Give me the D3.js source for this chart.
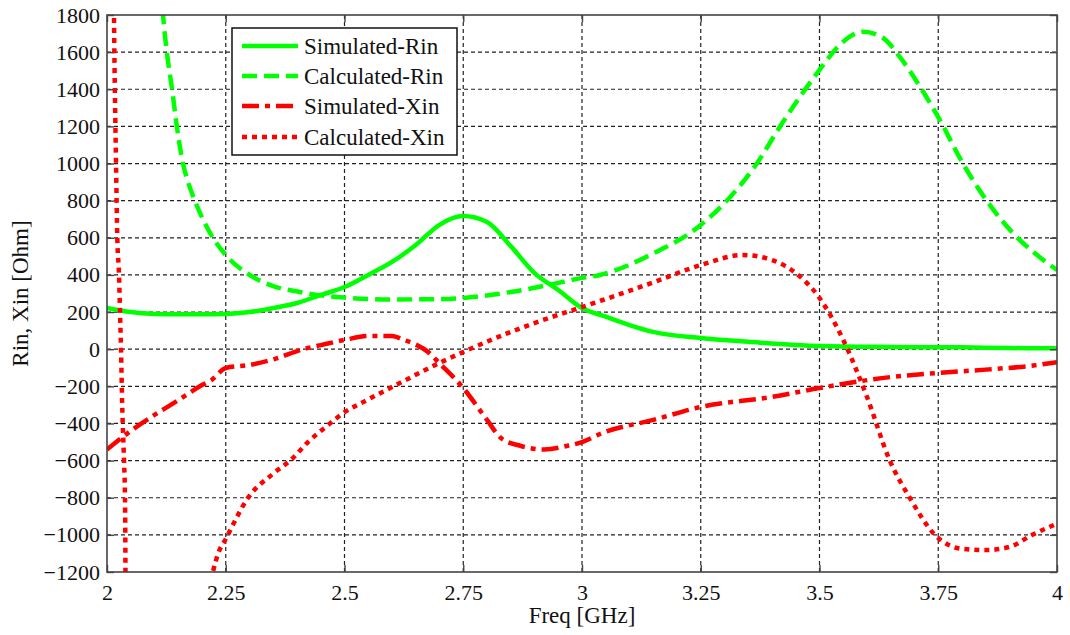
<!DOCTYPE html>
<html>
<head>
<meta charset="utf-8">
<script src="https://cdn.jsdelivr.net/npm/d3@7"></script>
<style>
  html, body { margin: 0; padding: 0; background: #fff; }
  svg text { font-family: "Liberation Serif", "Times New Roman", serif; fill: #111; }
</style>
</head>
<body>
<svg id="chart" width="1070" height="635"></svg>
<script>
// ---------- data ----------
const xTicks = [2, 2.25, 2.5, 2.75, 3, 3.25, 3.5, 3.75, 4];
const xTickLabels = ["2", "2.25", "2.5", "2.75", "3", "3.25", "3.5", "3.75", "4"];
const yTicks = [-1200, -1000, -800, -600, -400, -200, 0, 200, 400, 600, 800, 1000, 1200, 1400, 1600, 1800];

const simRinFreq = [2.0, 2.05, 2.1, 2.15, 2.2, 2.25, 2.3, 2.35, 2.4, 2.45, 2.5, 2.55, 2.6, 2.65, 2.7, 2.75, 2.8, 2.85, 2.9, 2.95, 3.0, 3.05, 3.1, 3.15, 3.25, 3.35, 3.5, 3.65, 3.8, 3.9, 4.0];
const simRin     = [222, 200, 190, 188, 188, 190, 200, 222, 249, 292, 335, 400, 470, 561, 670, 717, 685, 555, 410, 319, 222, 175, 130, 93, 60, 40, 17, 12, 10, 6, 5];

const calcRinFreq = [2.114, 2.118, 2.126, 2.137, 2.147, 2.16, 2.17, 2.185, 2.2, 2.223, 2.25, 2.3, 2.35, 2.406, 2.45, 2.5, 2.6, 2.7, 2.75, 2.85, 2.95, 3.0, 3.038, 3.143, 3.25, 3.312, 3.368, 3.417, 3.459, 3.5, 3.543, 3.592, 3.634, 3.669, 3.712, 3.75, 3.802, 3.852, 3.907, 3.958, 4.0];
const calcRin     = [1950, 1800, 1600, 1400, 1200, 1000, 905, 800, 710, 600, 507, 400, 340, 308, 290, 278, 268, 270, 276, 308, 357, 384, 400, 507, 669, 820, 1000, 1200, 1360, 1504, 1640, 1710, 1676, 1574, 1412, 1250, 1000, 800, 626, 507, 427];

const simXinFreq = [2.0, 2.05, 2.1, 2.15, 2.2, 2.22, 2.25, 2.3, 2.35, 2.413, 2.45, 2.5, 2.55, 2.6, 2.625, 2.65, 2.675, 2.7, 2.75, 2.8, 2.83, 2.87, 2.92, 2.97, 3.0, 3.044, 3.15, 3.25, 3.4, 3.5, 3.65, 3.75, 3.85, 3.95, 4.0];
const simXin     = [-540, -440, -354, -275, -193, -166, -101, -85, -55, 0, 22, 50, 71, 71, 50, 25, -13, -76, -209, -381, -480, -520, -540, -520, -500, -450, -381, -311, -257, -209, -150, -128, -110, -88, -70];

// null marks the gap where the curve leaves the plot below -1200
const calcXinFreq = [2.014, 2.0147, 2.019, 2.0217, 2.0253, 2.0274, 2.0295, 2.032, 2.0358, 2.0379, 2.0385, 2.039, 2.0395, null,
                     2.215, 2.223, 2.234, 2.25, 2.297, 2.35, 2.39, 2.423, 2.46, 2.497, 2.55, 2.6, 2.7, 2.75, 2.85, 2.9, 3.0, 3.044, 3.15, 3.25, 3.339, 3.4, 3.45, 3.5, 3.55, 3.6, 3.648, 3.69, 3.743, 3.8, 3.85, 3.9, 3.947, 4.0];
const calcXin     = [2000, 1800, 1000, 600, 400, 200, 0, -300, -600, -800, -1000, -1250, -1400, null,
                     -1300, -1200, -1100, -1022, -800, -670, -590, -500, -420, -345, -270, -204, -74, -15, 93, 141, 227, 265, 360, 453, 507, 480, 410, 276, 50, -257, -600, -800, -1000, -1075, -1082, -1065, -1001, -940];

const seriesNames = ["Simulated-Rin", "Calculated-Rin", "Simulated-Xin", "Calculated-Xin"];
const xLabel = "Freq [GHz]";
const yLabel = "Rin, Xin [Ohm]";

// ---------- layout ----------
const FONT = "Liberation Serif, Times New Roman, serif";
const L = 107, T = 15, R = 1057, B = 572;
const svg = d3.select("#chart");
const x = d3.scaleLinear().domain([2, 4]).range([L, R]);
const y = d3.scaleLinear().domain([-1200, 1800]).range([B, T]);

// grid
const grid = svg.append("g").attr("stroke", "#222").attr("stroke-width", 1.2).attr("stroke-dasharray", "4,3");
grid.selectAll(".gx").data(xTicks.slice(1, -1)).join("line")
  .attr("x1", d => x(d)).attr("x2", d => x(d)).attr("y1", T).attr("y2", B);
grid.selectAll(".gy").data(yTicks.slice(1, -1)).join("line")
  .attr("x1", L).attr("x2", R).attr("y1", d => y(d)).attr("y2", d => y(d));

// series
svg.append("clipPath").attr("id", "plotclip").append("rect")
  .attr("x", L).attr("y", T).attr("width", R - L).attr("height", B - T);

const styles = [
  { color: "#00ff00", dash: null },
  { color: "#00ff00", dash: "15,7" },
  { color: "#ff0000", dash: "17,6,5,6" },
  { color: "#ff0000", dash: "5,5" }
];
const seriesData = [
  simRinFreq.map((f, i) => [f, simRin[i]]),
  calcRinFreq.map((f, i) => [f, calcRin[i]]),
  simXinFreq.map((f, i) => [f, simXin[i]]),
  calcXinFreq.map((f, i) => [f, calcXin[i]])
];
const line = d3.line()
  .defined(d => d[0] !== null && d[1] !== null)
  .x(d => x(d[0])).y(d => y(d[1]))
  .curve(d3.curveMonotoneX);

const plot = svg.append("g").attr("clip-path", "url(#plotclip)");
seriesData.forEach((data, i) => {
  plot.append("path").datum(data)
    .attr("d", line)
    .attr("fill", "none")
    .attr("stroke", styles[i].color)
    .attr("stroke-width", 4.5)
    .attr("stroke-linejoin", "round")
    .attr("stroke-dasharray", styles[i].dash);
});

// frame
svg.append("rect").attr("x", L).attr("y", T).attr("width", R - L).attr("height", B - T)
  .attr("fill", "none").attr("stroke", "#444").attr("stroke-width", 1.6);

// inner ticks on all sides via axes
const tl = 7;
const axB = svg.append("g").attr("transform", `translate(0,${B})`)
  .call(d3.axisBottom(x).tickValues(xTicks).tickSize(-tl).tickPadding(12).tickFormat((d, i) => xTickLabels[i]));
const axT = svg.append("g").attr("transform", `translate(0,${T})`)
  .call(d3.axisTop(x).tickValues(xTicks).tickSize(-tl).tickFormat(""));
const axL = svg.append("g").attr("transform", `translate(${L},0)`)
  .call(d3.axisLeft(y).tickValues(yTicks).tickSize(-tl).tickPadding(7).tickFormat(d3.format("d")));
const axR = svg.append("g").attr("transform", `translate(${R},0)`)
  .call(d3.axisRight(y).tickValues(yTicks).tickSize(-tl).tickFormat(""));
[axB, axT, axL, axR].forEach(a => {
  a.attr("font-family", FONT).attr("font-size", 22);
  a.select(".domain").remove();
  a.selectAll(".tick line").attr("stroke", "#444").attr("stroke-width", 1.4);
});
svg.selectAll(".tick text")
  .style("font-family", FONT).style("font-size", "22px").style("fill", "#111");
axB.selectAll(".tick text").attr("dy", "0.71em");

// axis labels
svg.append("text").attr("x", (L + R) / 2).attr("y", 623).attr("text-anchor", "middle")
  .style("font-size", "23px").text(xLabel);
svg.append("text").attr("transform", `translate(28,${(T + B) / 2}) rotate(-90)`)
  .attr("text-anchor", "middle").style("font-size", "23px").text(yLabel);

// legend
const lg = svg.append("g");
lg.append("rect").attr("x", 232).attr("y", 28).attr("width", 225).attr("height", 127)
  .attr("fill", "#fff").attr("stroke", "#111").attr("stroke-width", 1.5);
const rowY = [46, 76, 106, 137];
seriesNames.forEach((name, i) => {
  lg.append("line").attr("x1", 242).attr("x2", 298).attr("y1", rowY[i]).attr("y2", rowY[i])
    .attr("stroke", styles[i].color).attr("stroke-width", 4.5)
    .attr("stroke-dasharray", styles[i].dash);
  lg.append("text").attr("x", 304).attr("y", rowY[i] + 8).style("font-size", "23px").text(name);
});
</script>
</body>
</html>
